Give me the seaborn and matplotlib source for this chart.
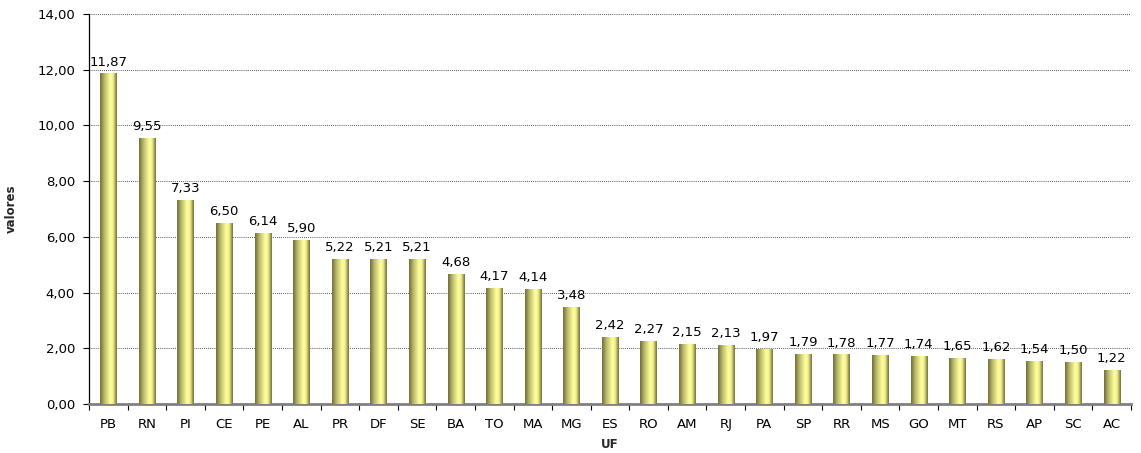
import numpy as np
import pandas as pd
import matplotlib.pyplot as plt
import seaborn as sns
from matplotlib.colors import LinearSegmentedColormap
from matplotlib.ticker import FuncFormatter, MultipleLocator

ufs = ["PB", "RN", "PI", "CE", "PE", "AL", "PR", "DF", "SE", "BA", "TO", "MA", "MG", "ES",
       "RO", "AM", "RJ", "PA", "SP", "RR", "MS", "GO", "MT", "RS", "AP", "SC", "AC"]
valores = [11.87, 9.55, 7.33, 6.50, 6.14, 5.90, 5.22, 5.21, 5.21, 4.68, 4.17, 4.14, 3.48, 2.42,
           2.27, 2.15, 2.13, 1.97, 1.79, 1.78, 1.77, 1.74, 1.65, 1.62, 1.54, 1.50, 1.22]

sns.set_theme(style="white")
plt.rcParams["font.family"] = ["DejaVu Sans"]

df = pd.DataFrame({"UF": ufs, "valores": valores})

fig = plt.figure(figsize=(11.41, 4.53), dpi=100)
ax = fig.add_axes([89 / 1141, 1 - 404 / 453, 1042 / 1141, 390 / 453])

sns.barplot(data=df, x="UF", y="valores", color="#ffff99", width=0.42, ax=ax,
            edgecolor="none", zorder=3)

# cylinder-like shading for each bar
shade = LinearSegmentedColormap.from_list(
    "olive", [(0, "#6f6f3a"), (0.25, "#b8b86a"), (0.6, "#ffff9c"), (0.78, "#f2f290"), (1, "#6f6f3a")])
grad = np.linspace(0, 1, 64).reshape(1, -1)
for p in ax.patches:
    x0, w, h = p.get_x(), p.get_width(), p.get_height()
    im = ax.imshow(grad, cmap=shade, extent=[x0, x0 + w, 0, h], aspect="auto",
                   zorder=4, interpolation="bicubic")
    im.set_clip_path(p)

for i, v in enumerate(valores):
    ax.text(i, v + 0.17, f"{v:.2f}".replace(".", ","), ha="center", va="bottom",
            fontsize=9.5, color="black", zorder=5)

ax.set_xlim(-0.5, len(ufs) - 0.5)
ax.set_ylim(0, 14)
ax.yaxis.set_major_locator(MultipleLocator(2))
ax.yaxis.set_major_formatter(FuncFormatter(lambda y, _: f"{y:.2f}".replace(".", ",")))
ax.grid(axis="y", color="#222222", linestyle=(0, (1, 1.5)), linewidth=0.6, zorder=1)

ax.set_xticks(np.arange(len(ufs)))
ax.set_xticklabels(ufs)
ax.set_xticks(np.arange(len(ufs) + 1) - 0.5, minor=True)
ax.tick_params(axis="x", which="major", length=0, labelsize=9.5, pad=10, colors="black")
ax.tick_params(axis="x", which="minor", length=4, width=0.8, color="black", direction="out",
               bottom=True)
ax.tick_params(axis="y", length=4, width=0.8, color="black", direction="out", left=True,
               labelsize=9.5, colors="black", pad=6)

for side in ["top", "right"]:
    ax.spines[side].set_visible(False)
ax.spines["left"].set_color("black")
ax.spines["left"].set_linewidth(0.9)
ax.spines["bottom"].set_color("#808080")
ax.spines["bottom"].set_linewidth(2)

ax.set_xlabel("UF", fontsize=8.5, fontweight="bold", labelpad=5)
ax.set_ylabel("valores", fontsize=8.5, fontweight="bold", labelpad=14)

fig.savefig("out.png", dpi=100)
